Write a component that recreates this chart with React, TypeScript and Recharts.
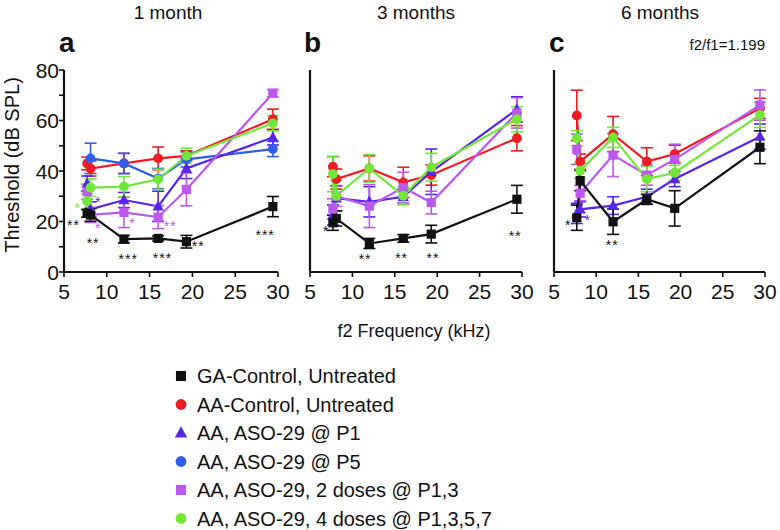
import React from "react";
import { ComposedChart, Line, XAxis, YAxis, ErrorBar, ReferenceDot } from "recharts";

const FONT = "'Liberation Sans', Arial, Helvetica, sans-serif";

// f2 frequencies (kHz)
const freqs = [7.7, 8.1, 12, 16, 19.3, 29.4];
const xTicks = [5, 10, 15, 20, 25, 30];
const yTicks = [0, 10, 20, 30, 40, 50, 60, 70, 80];

// 1 month
const ga1 = [23.2, 22.6, 13, 13.3, 12, 25.9];
const ga1Err = [1.5, 2.5, 1.5, 1, 2.5, 4];
const aa1 = [43, 41, 43, 45, 46, 60.5];
const aa1Err = [2.5, 3, 4, 4.5, 2, 4];
const p1m1 = [35, 24.8, 28.5, 26, 41, 53.3];
const p1m1Err = [3, 3, 3, 6, 4, 3];
const p5m1 = [null, 45, 43, 37, 44.6, 48.7];
const p5m1Err = [null, 6, 4, 4, 3, 3];
const d2m1 = [31.8, 22.6, 23.6, 21.7, 32.7, 70.8];
const d2m1Err = [3, 3, 6, 4.5, 6.5, 1.5];
const d4m1 = [28, 33.4, 33.8, 36.7, 46, 58.9];
const d4m1Err = [3, 3.5, 4, 4, 3, 3];

// 3 months
const ga3 = [19.5, 21.2, 11.3, 13.3, 15, 28.8];
const ga3Err = [3, 3, 2, 1.5, 3.5, 5.5];
const aa3 = [41.7, 36.8, 41, 35.5, 38.4, 53];
const aa3Err = [4, 4, 5, 6, 4, 5];
const p1m3 = [22.6, 29.2, 27.8, 29.8, 39.7, 64.4];
const p1m3Err = [4, 5, 6, 3, 9, 5];
const d2m3 = [25, 30, 26.1, 33.5, 27.5, 63];
const d2m3Err = [4, 4, 8.5, 6, 4.5, 6];
const d4m3 = [38.8, 30.2, 41, 30.2, 41.5, 60.5];
const d4m3Err = [7, 6, 5.5, 3.5, 5.5, 5];

// 6 months
const ga6 = [21.5, 36.2, 19.9, 28.8, 25.2, 49.4];
const ga6Err = [5, 4, 5, 2, 7, 6.5];
const aa6 = [62, 43.7, 54.6, 43.7, 46.7, 64.8];
const aa6Err = [10, 3, 7, 5.5, 3.5, 4];
const p1m6 = [23.2, 24.8, 26.3, 29.8, 36.8, 53.6];
const p1m6Err = [4, 3, 3.5, 3, 3, 5];
const d2m6 = [48.6, 31.2, 46.3, 38.4, 44.6, 66.1];
const d2m6Err = [6, 3, 8.5, 4, 6, 6];
const d4m6 = [53, 40.1, 53.3, 36.8, 39.3, 62.2];
const d4m6Err = [3, 3, 4, 5, 3, 5];

// significance marks
const stars1 = [
  { x: 6.1, y: 19.8, t: "**", c: "#111" },
  { x: 6.6, y: 26.5, t: "*", c: "#72e639" },
  { x: 9.0, y: 29, t: "*", c: "#5726e6" },
  { x: 9.0, y: 18.6, t: "*", c: "#bb58f0" },
  { x: 8.4, y: 12.6, t: "**", c: "#111" },
  { x: 13, y: 20.6, t: "*", c: "#bb58f0" },
  { x: 12.5, y: 6.3, t: "***", c: "#111" },
  { x: 17.4, y: 19.4, t: "**", c: "#bb58f0" },
  { x: 16.5, y: 6.7, t: "***", c: "#111" },
  { x: 20.3, y: 11.5, t: "***", c: "#111" },
  { x: 28.5, y: 16, t: "***", c: "#111" },
];
const stars3 = [
  { x: 6.9, y: 17.4, t: "*", c: "#111" },
  { x: 11.5, y: 6.3, t: "**", c: "#111" },
  { x: 15.8, y: 6.7, t: "**", c: "#111" },
  { x: 19.5, y: 6.7, t: "**", c: "#111" },
  { x: 29.2, y: 15.5, t: "**", c: "#111" },
];
const stars6 = [
  { x: 6.7, y: 19.8, t: "*", c: "#111" },
  { x: 9.0, y: 21.8, t: "*", c: "#5726e6" },
  { x: 11.9, y: 11.9, t: "**", c: "#111" },
];

const series = [
  { key: "aa", name: "AA-Control, Untreated", color: "#ee1c24", shape: "circle" },
  { key: "p5", name: "AA, ASO-29 @ P5", color: "#2f5ee8", shape: "circle" },
  { key: "p1", name: "AA, ASO-29 @ P1", color: "#5726e6", shape: "triangle" },
  { key: "d2", name: "AA, ASO-29, 2 doses @ P1,3", color: "#bb58f0", shape: "square" },
  { key: "d4", name: "AA, ASO-29, 4 doses @ P1,3,5,7", color: "#72e639", shape: "circle" },
  { key: "ga", name: "GA-Control, Untreated", color: "#111111", shape: "square" },
];
const legendOrder = ["ga", "aa", "p1", "p5", "d2", "d4"];

const buildRows = (vals: Record<string, any[]>, errs: Record<string, any[]>) =>
  freqs.map((f, i) => {
    const row: any = { f };
    Object.keys(vals).forEach((k) => {
      row[k] = vals[k][i];
      row[k + "Err"] = errs[k][i];
    });
    return row;
  });

const rows1 = buildRows(
  { ga: ga1, aa: aa1, p1: p1m1, p5: p5m1, d2: d2m1, d4: d4m1 },
  { ga: ga1Err, aa: aa1Err, p1: p1m1Err, p5: p5m1Err, d2: d2m1Err, d4: d4m1Err }
);
const rows3 = buildRows(
  { ga: ga3, aa: aa3, p1: p1m3, d2: d2m3, d4: d4m3 },
  { ga: ga3Err, aa: aa3Err, p1: p1m3Err, d2: d2m3Err, d4: d4m3Err }
);
const rows6 = buildRows(
  { ga: ga6, aa: aa6, p1: p1m6, d2: d2m6, d4: d4m6 },
  { ga: ga6Err, aa: aa6Err, p1: p1m6Err, d2: d2m6Err, d4: d4m6Err }
);

const Marker = ({ shape, color, x, y, s = 1 }: any) => {
  if (shape === "square")
    return <rect x={x - 4.6 * s} y={y - 4.6 * s} width={9.2 * s} height={9.2 * s} fill={color} />;
  if (shape === "triangle")
    return (
      <polygon
        points={`${x},${y - 6.2 * s} ${x - 5.6 * s},${y + 4.2 * s} ${x + 5.6 * s},${y + 4.2 * s}`}
        fill={color}
      />
    );
  return <circle cx={x} cy={y} r={4.9 * s} fill={color} />;
};

const makeDot = (shape: string, color: string) => (props: any) => {
  const { cx, cy, key, value } = props;
  if (value == null || !Number.isFinite(cx) || !Number.isFinite(cy)) return <g key={key} />;
  return <Marker key={key} shape={shape} color={color} x={cx} y={cy} />;
};

const XTick = ({ x, y, payload }: any) => (
  <text x={x} y={y + 20} textAnchor="middle" fontSize={21} fontFamily={FONT} fill="#111">
    {payload.value}
  </text>
);

const YTick = ({ x, y, payload }: any) =>
  payload.value % 20 === 0 ? (
    <text x={x} y={y + 7.5} textAnchor="end" fontSize={21} fontFamily={FONT} fill="#111">
      {payload.value}
    </text>
  ) : (
    <g />
  );

const Panel = ({ rows, keys, stars, left, width, yWidth, right, showY }: any) => (
  <div style={{ position: "absolute", left, top: 0 }}>
    <ComposedChart
      width={width}
      height={310}
      data={rows}
      margin={{ top: 70, right, bottom: 0, left: 0 }}
    >
      <XAxis
        dataKey="f"
        type="number"
        domain={[5, 30]}
        ticks={xTicks}
        allowDataOverflow
        height={38}
        tickSize={5}
        tickMargin={2}
        axisLine={{ stroke: "#111", strokeWidth: 2.2 }}
        tickLine={{ stroke: "#111", strokeWidth: 1.6 }}
        tick={<XTick />}
      />
      <YAxis
        type="number"
        domain={[0, 80]}
        ticks={yTicks}
        allowDataOverflow
        width={yWidth}
        tickSize={5}
        tickMargin={0}
        axisLine={{ stroke: "#111", strokeWidth: 2.2 }}
        tickLine={{ stroke: "#111", strokeWidth: 1.6 }}
        tick={showY ? <YTick /> : false}
      />
      {series
        .filter((s) => keys.includes(s.key))
        .map((s) => (
          <Line
            key={s.key}
            dataKey={s.key}
            type="linear"
            stroke={s.color}
            strokeWidth={2.2}
            dot={makeDot(s.shape, s.color)}
            activeDot={false}
            isAnimationActive={false}
          >
            <ErrorBar
              dataKey={s.key + "Err"}
              direction="y"
              width={6}
              stroke={s.color}
              strokeWidth={1.6}
              isAnimationActive={false}
            />
          </Line>
        ))}
      {stars.map((st: any, i: number) => (
        <ReferenceDot
          key={"st" + i}
          x={st.x}
          y={st.y}
          r={0}
          ifOverflow="visible"
          shape={(p: any) => (
            <text
              x={p.cx}
              y={p.cy + 8}
              textAnchor="middle"
              fontSize={14}
              fontFamily={FONT}
              letterSpacing={1}
              fill={st.c}
            >
              {st.t}
            </text>
          )}
        />
      ))}
    </ComposedChart>
  </div>
);

export default function App() {
  const txt = { fontFamily: FONT, fill: "#111" };
  return (
    <div style={{ position: "absolute", left: 0, top: 0, width: 780, height: 530, background: "#fff" }}>
      <svg width={780} height={530} style={{ position: "absolute", left: 0, top: 0 }}>
        <text x={168} y={19} textAnchor="middle" fontSize={19} {...txt}>1 month</text>
        <text x={416} y={19} textAnchor="middle" fontSize={19} {...txt}>3 months</text>
        <text x={660} y={19} textAnchor="middle" fontSize={19} {...txt}>6 months</text>
        <text x={59} y={52} fontSize={28} fontWeight="bold" {...txt}>a</text>
        <text x={304} y={52} fontSize={28} fontWeight="bold" {...txt}>b</text>
        <text x={549} y={52} fontSize={28} fontWeight="bold" {...txt}>c</text>
        <text x={765} y={50} textAnchor="end" fontSize={15} {...txt}>f2/f1=1.199</text>
        <text
          x={19}
          y={165}
          textAnchor="middle"
          fontSize={20}
          transform="rotate(-90 19 165)"
          {...txt}
        >
          Threshold (dB SPL)
        </text>
        <text x={414} y={337} textAnchor="middle" fontSize={18} {...txt}>f2 Frequency (kHz)</text>
        {legendOrder.map((k, i) => {
          const s = series.find((d) => d.key === k)!;
          const cy = 376 + i * 28.5;
          return (
            <g key={k}>
              <Marker shape={s.shape} color={s.color} x={181} y={cy} s={1.1} />
              <text x={197} y={cy + 7} fontSize={20} {...txt}>{s.name}</text>
            </g>
          );
        })}
      </svg>
      <Panel rows={rows1} keys={["aa", "p5", "p1", "d2", "d4", "ga"]} stars={stars1} left={0} width={290} yWidth={64} right={12} showY />
      <Panel rows={rows3} keys={["aa", "p1", "d2", "d4", "ga"]} stars={stars3} left={290} width={244} yWidth={20} right={12} showY={false} />
      <Panel rows={rows6} keys={["aa", "p1", "d2", "d4", "ga"]} stars={stars6} left={534} width={246} yWidth={20} right={15} showY={false} />
    </div>
  );
}
